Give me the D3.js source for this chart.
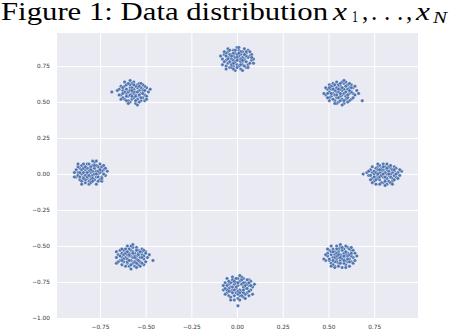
<!DOCTYPE html>
<html>
<head>
<meta charset="utf-8">
<script src="https://cdn.jsdelivr.net/npm/d3@7"></script>
<style>
  body { margin: 0; background: #fff; }
  svg { display: block; }
</style>
</head>
<body>
<div id="chart"></div>
<script>
// cluster centres (8 gaussians on a ring)
const centers = [
  [0.00, 0.80], [0.565, 0.57], [0.80, 0.00], [0.565, -0.57],
  [0.005, -0.785], [-0.57, -0.57], [-0.80, 0.01], [-0.565, 0.57]
];

// per-cluster point offsets, in units of 0.01
const offsets = [
  "0,0 3,-2 -4,1 5,4 -2,-5 1,6 -6,-1 7,2 -3,3 2,-7 -1,-3 4,0 -5,5 6,-4 -7,3 0,8 3,5 -4,-6 8,-1 -2,2 1,-1 -3,-3 5,-6 -6,4 2,3 -8,0 4,7 -1,-8 6,1 -5,-3 3,-4 -2,6 0,-4 7,-3 -4,3 1,2 -6,-5 5,2 -3,0 2,-2 -1,4 8,3 -7,-2 4,-1 -2,-1 0,3 3,1 -5,1 6,6 -3,-6 1,-5 -8,-4 9,0 -1,1 2,5 -4,-2 5,-2 -6,2 0,-6 3,-8 -2,4 7,5 -5,7 1,8 -9,2 4,3 -3,-4 2,0 -1,-2 6,-6 -4,6 0,1 9,-3 -7,5 3,-1 -2,-7 5,5 -6,-7 1,4 -3,2 4,-5 -1,6 2,-4 -5,0 8,1 -2,-3 0,-1",
  "1,1 -3,2 4,-3 -2,-4 5,3 -6,0 2,6 -1,-7 7,-1 -4,4 3,-5 0,4 -5,-3 6,5 -7,2 1,-2 -2,0 4,2 -3,-6 8,-2 -1,3 2,-8 -6,5 5,-1 -4,-1 3,7 0,-3 -8,-2 6,-5 -2,7 1,-5 -5,2 4,5 -3,-2 7,3 -1,0 2,2 -6,-4 5,-6 -4,6 9,1 0,-6 -2,-8 3,-3 -7,-1 1,7 -5,4 6,0 -3,1 2,-1 -1,5 4,-4 -6,-6 8,4 -2,-2 0,2 3,4 -4,-5 5,1 -8,3 1,-9 -3,5 7,-4 -1,-4 2,8 -5,-1 6,3 -2,3 0,-1 4,-7 -7,-4 3,0 -1,2 5,6 -4,2 10,-1 -6,3 1,3 -3,-8 2,-6 -9,-1 4,-2 0,6 12,-6",
  "-1,0 2,3 -4,-2 5,-3 -3,5 0,-6 6,2 -6,1 3,-1 -2,-4 1,5 -5,-5 7,-2 -1,2 4,4 -7,3 2,-7 -3,-1 8,1 0,7 -4,4 5,-5 -2,1 3,2 -8,-1 1,-3 6,5 -5,0 4,-2 -1,-6 2,0 -6,-3 7,4 -3,3 0,-2 9,-1 -2,6 3,-5 -4,-7 5,1 -1,4 1,1 -7,-4 6,-4 -3,-3 2,7 -5,2 4,0 0,3 -9,1 8,-3 -2,-2 3,5 -4,1 1,-8 6,-1 -6,5 5,3 -1,-1 2,-3 -3,7 7,0 -8,2 0,5 4,-6 -2,-7 10,2 -5,-2 3,0 -1,3 1,-5 -4,-4 6,3 -3,0 2,4 -7,-1 5,-7 0,0 -2,3 4,6 -6,-6 9,3 1,-2 -11,0",
  "2,-1 -3,3 4,2 -1,-5 5,-2 -5,1 0,6 -2,-2 6,4 -6,-3 3,-6 -4,5 1,0 7,-1 -3,-7 2,5 -7,0 4,-4 0,-3 -1,3 8,2 -5,-5 3,1 -2,7 5,-7 -4,-1 1,-8 6,0 -6,4 2,2 -1,-1 4,6 -8,-3 0,1 3,-3 -3,1 7,4 -2,-4 5,5 -5,3 1,-2 -4,-6 6,-4 0,8 -7,2 3,3 -1,-7 2,-5 -3,-1 9,0 -5,7 4,0 -2,2 1,4 -6,-2 5,1 0,-5 -4,3 7,-5 -1,5 3,-8 -8,1 2,0 -3,-4 6,6 -2,0 4,-2 -9,-2 1,6 -5,-7 8,-3 0,-1 -1,1 3,7 -4,-3 5,-4 -7,5 2,-3 -2,5 6,2 -3,-8",
  "0,1 -3,-2 4,3 -2,5 5,-4 -5,2 1,-6 -1,-1 6,1 -6,-4 3,6 -4,0 2,-3 -7,3 7,-2 0,-8 -2,2 4,-1 -3,7 1,4 -5,-6 6,5 -1,-4 3,-7 -6,1 8,0 -4,-3 2,2 0,6 -8,-2 5,2 -2,-6 3,0 -3,4 7,4 -1,3 1,-2 -5,-1 4,-5 -7,-5 2,7 -4,3 6,-3 0,-3 -2,-9 5,5 -6,6 3,-4 -1,0 8,-5 -3,-4 1,8 -5,4 4,1 -8,1 2,-6 0,3 -3,0 6,-6 -1,6 9,2 -4,-7 3,3 -2,-2 5,-1 -6,-2 1,-9 0,-13 2,5 -7,-1 4,-8 0,-5 -3,5 7,1 -5,-3 3,-2 -2,4 1,-4 -4,-9 6,3",
  "-1,0 2,-2 -4,3 5,1 -3,-5 0,6 -6,-1 4,-4 -2,2 1,-7 -5,4 6,-2 -1,-3 3,4 -7,-3 2,0 -3,7 7,3 -4,-1 0,-5 5,5 -6,2 1,2 -2,-7 4,-1 -8,1 3,-6 -1,4 6,0 -5,-4 2,6 -3,-2 0,-1 8,-1 -4,5 1,-4 -6,-6 5,3 -2,0 3,2 -7,4 4,-7 -1,7 -3,-4 7,-4 0,3 -5,1 2,-5 -9,-1 6,4 -2,5 1,0 -4,-7 3,-3 -6,5 5,-1 -1,-6 0,2 -3,1 9,1 -7,0 2,4 -2,-3 4,3 -5,-2 1,-1 -4,2 6,-6 0,8 -8,-4 3,1 -1,-9 7,2 -3,3 2,-8 -6,-3 5,-5 -2,1 -9,-5 11,-3 -9,3",
  "0,0 -3,2 4,-1 -2,-4 5,3 -5,-1 1,5 -1,-6 6,-3 -6,3 3,1 -4,-3 2,-5 -7,0 7,2 0,-3 -2,6 4,4 -3,-7 1,-2 -8,2 5,-5 -1,3 3,-3 -5,5 6,1 -4,0 2,7 -6,-5 0,4 8,-2 -2,-1 4,-6 -7,4 1,1 -3,-2 5,6 -1,-8 3,5 -5,-6 7,-1 -2,3 0,-5 -8,-3 6,4 -4,6 2,-1 -1,1 4,-3 -6,0 9,1 -3,-5 1,8 -5,2 3,-8 -7,-2 5,0 0,2 -2,-3 6,-6 -4,3 2,3 -9,0 1,-4 -1,6 7,5 -3,4 4,1 -6,-3 0,-7 8,3 -5,-8 3,-1 -2,0 5,2 -9,-3 1,-6 -4,-4 2,5 -1,-2 6,-4 -7,6 3,8",
  "1,0 -2,3 3,-3 -4,-1 5,2 -1,-5 -5,4 2,5 6,-2 -3,-3 0,7 4,-6 -6,1 1,-2 -2,-7 7,3 -4,5 3,1 -7,-2 0,-4 5,-4 -3,0 2,3 -1,6 6,4 -5,-5 4,-1 -8,2 1,-8 -2,1 3,6 -6,-4 8,0 0,2 -3,-6 5,5 -1,-1 2,-5 -5,0 4,3 -7,4 1,4 -4,-3 6,-6 -2,5 3,-2 0,-1 -9,1 7,-3 -1,3 2,0 -5,7 5,1 -3,-8 0,5 -6,-1 4,-4 -2,-2 1,-6 -4,2 9,2 -7,-5 3,4 -1,-3 6,1 -3,6 2,-9 -8,-2 0,0 5,-1 -2,8 4,6 -6,3 1,-3 -4,-6 7,-5 -1,1 3,-7 -12,0"
];

const xTicks = [-0.75, -0.5, -0.25, 0, 0.25, 0.5, 0.75];
const yTicks = [-1.0, -0.75, -0.5, -0.25, 0, 0.25, 0.5, 0.75];

const points = [];
centers.forEach(([cx, cy], i) => {
  offsets[i].split(" ").forEach(p => {
    const [dx, dy] = p.split(",").map(Number);
    points.push({ x: cx + dx / 100, y: cy + dy / 100 });
  });
});

const W = 452, H = 330;
const plot = { left: 57, right: 418, top: 33, bottom: 318 };

const svg = d3.select("#chart").append("svg")
  .attr("width", W)
  .attr("height", H);

const x = d3.scaleLinear().domain([-0.985, 0.99]).range([plot.left, plot.right]);
const y = d3.scaleLinear().domain([-1.0, 0.98]).range([plot.bottom, plot.top]);

// title, pieces placed to follow the reference widths
const titleG = svg.append("g")
  .attr("font-family", "Liberation Serif, serif")
  .attr("fill", "#000");

function tpart(str, px, py, size, opts = {}) {
  const t = titleG.append("text")
    .attr("x", px).attr("y", py)
    .attr("font-size", size)
    .text(str);
  if (opts.italic) t.attr("font-style", "italic");
  if (opts.len) t.attr("textLength", opts.len).attr("lengthAdjust", "spacingAndGlyphs");
  return t;
}
tpart("Figure 1: Data distribution", 1, 19.5, 24.5, { len: 327 });
tpart("x", 333, 19.5, 25, { italic: true, len: 14 });
tpart("1", 352, 22, 17, { len: 6 });
tpart(",", 362, 19.5, 25);
tpart(".", 371, 19.5, 25);
tpart(".", 384, 19.5, 25);
tpart(".", 397, 19.5, 25);
tpart(",", 406, 19.5, 25);
tpart("x", 416, 19.5, 25, { italic: true, len: 14 });
tpart("N", 433, 22.5, 17, { italic: true, len: 14 });

// background
svg.append("rect")
  .attr("x", plot.left).attr("y", plot.top)
  .attr("width", plot.right - plot.left)
  .attr("height", plot.bottom - plot.top)
  .attr("fill", "#eaeaf2");

const fmt = d => d3.format(".2f")(d).replace("-", "\u2212");

// grid + tick labels
svg.append("g")
  .attr("transform", `translate(0,${plot.bottom})`)
  .call(d3.axisBottom(x).tickValues(xTicks).tickSize(-(plot.bottom - plot.top))
    .tickPadding(6.5).tickFormat(fmt));

svg.append("g")
  .attr("transform", `translate(${plot.left},0)`)
  .call(d3.axisLeft(y).tickValues(yTicks).tickSize(-(plot.right - plot.left))
    .tickPadding(7).tickFormat(fmt));

svg.selectAll(".domain").remove();
svg.selectAll(".tick line").attr("stroke", "#fff").attr("stroke-width", 1);
svg.selectAll(".tick text")
  .attr("fill", "#333")
  .style("font-family", "DejaVu Sans, sans-serif")
  .style("font-size", "5.8px");

// points
svg.append("g")
  .selectAll("circle")
  .data(points)
  .enter().append("circle")
  .attr("cx", d => x(d.x))
  .attr("cy", d => y(d.y))
  .attr("r", 1.75)
  .attr("fill", "#4c72b0")
  .attr("stroke", "#fff")
  .attr("stroke-width", 0.35);
</script>
</body>
</html>
